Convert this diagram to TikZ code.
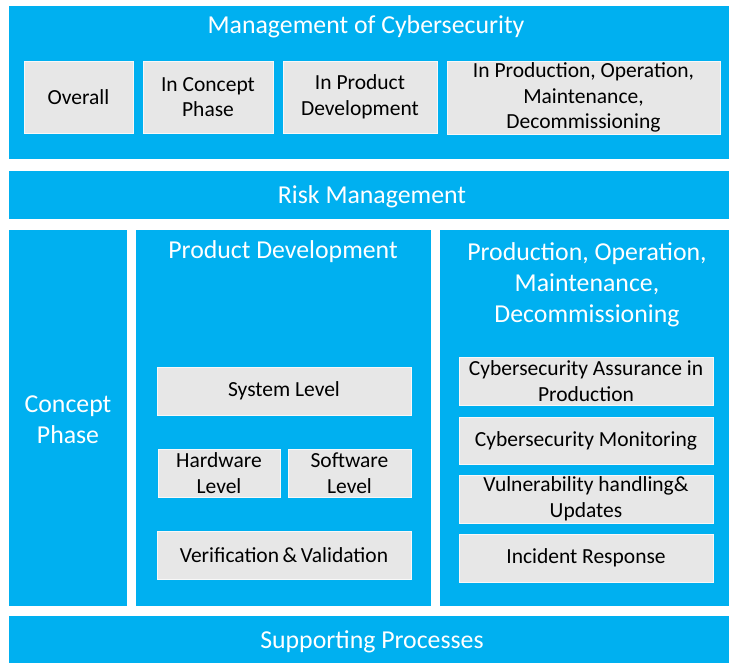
\documentclass[tikz,border=0pt]{standalone}
\usepackage{fontspec}
\setmainfont{Carlito}
\usepackage{tikz}
\definecolor{cbBlue}{RGB}{0,176,240}
\definecolor{cbGrey}{RGB}{231,231,231}
\tikzset{
    x=1pt,y=1pt,
    band/.style={rectangle,fill=cbBlue,inner sep=0pt},
    cell/.style={rectangle,fill=cbGrey,draw=white!70!cbGrey,line width=0.6pt,inner sep=0pt,align=center,
                 font=\fontsize{21.5}{25.5}\selectfont},
    heading/.style={text=white,align=center,font=\fontsize{25.8}{31}\selectfont}
}

\begin{document}
\begin{tikzpicture}
  \useasboundingbox[fill=white] (0,0) rectangle (729,-663);

  % top band
  \node[band,minimum width=720,minimum height=153] (mgmt) at (369,-82.5) {};
  \node[heading] (mgmtTitle) at (366,-27) {Management of Cybersecurity};
  \node[cell,minimum width=109,minimum height=72] (overall) at (78.5,-97) {Overall};
  \node[cell,minimum width=130,minimum height=72] (inConcept) at (208,-97) {In Concept\\Phase};
  \node[cell,minimum width=154,minimum height=72] (inDev) at (360,-97) {In Product\\Development};
  \node[cell,minimum width=273,minimum height=73] (inProd) at (583.5,-97.5) {In Production, Operation,\\Maintenance,\\Decommissioning};

  \node[band,minimum width=720,minimum height=48] (risk) at (369,-195) {};
  \node[heading] (riskTitle) at (372,-197) {Risk Management};

  % columns
  \node[band,minimum width=118,minimum height=376] (concept) at (68,-418) {};
  \node[heading] (conceptTitle) at (68,-420) {Concept\\Phase};

  \node[band,minimum width=295,minimum height=376] (dev) at (283.5,-418) {};
  \node[heading] (devTitle) at (283,-252) {Product Development};
  \node[cell,minimum width=254,minimum height=48] (system) at (284,-391) {System Level};
  \node[cell,minimum width=122,minimum height=48] (hardware) at (219,-473) {Hardware\\Level};
  \node[cell,minimum width=123,minimum height=48] (software) at (349.5,-473) {Software\\Level};
  \node[cell,minimum width=254,minimum height=48] (verif) at (284,-555) {Verification\,\&\,Validation};

  \node[band,minimum width=289,minimum height=376] (prod) at (584.5,-418) {};
  \node[heading] (prodTitle) at (587,-285) {Production, Operation,\\Maintenance,\\Decommissioning};
  \node[cell,minimum width=254,minimum height=48] (assurance) at (586,-381) {Cybersecurity Assurance in\\Production};
  \node[cell,minimum width=254,minimum height=47] (monitor) at (586,-440.5) {Cybersecurity Monitoring};
  \node[cell,minimum width=254,minimum height=48] (vuln) at (586,-499) {Vulnerability handling\&\\Updates};
  \node[cell,minimum width=254,minimum height=48] (incident) at (586,-558) {Incident Response};

  \node[band,minimum width=720,minimum height=47] (support) at (369,-639.5) {};
  \node[heading] (supportTitle) at (372,-642) {Supporting Processes};
\end{tikzpicture}
\end{document}
